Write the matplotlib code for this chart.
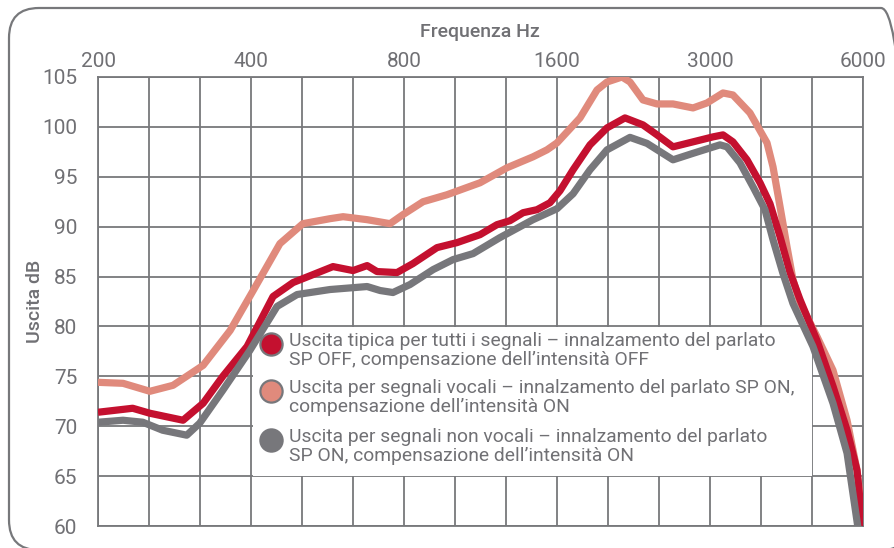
import matplotlib
matplotlib.use("Agg")
import matplotlib.pyplot as plt
from matplotlib.patches import FancyBboxPatch, Rectangle
from matplotlib.transforms import IdentityTransform
from matplotlib.ticker import FixedLocator, NullFormatter

# ---------------- data ----------------
tick_freqs = [200, 400, 800, 1600, 3200, 6400]
tick_labels = ["200", "400", "800", "1600", "3000", "6000"]
y_ticks = [60, 65, 70, 75, 80, 85, 90, 95, 100, 105]

red_f = [200, 234, 253, 294, 322, 352, 393, 442, 484, 530, 580, 635, 677, 708, 775,
         833, 929, 1017, 1129, 1219, 1293, 1372, 1461, 1550, 1622, 1721, 1858, 2007,
         2177, 2362, 2517, 2706, 2963, 3244, 3394, 3550, 3784, 4014, 4199, 4395, 4598,
         4810, 5194, 5587, 5954, 6228, 6420]
red_db = [71.4, 71.8, 71.3, 70.6, 72.3, 75.0, 78.0, 83.0, 84.4, 85.2, 86.0, 85.6, 86.1, 85.5, 85.4,
          86.3, 87.9, 88.4, 89.2, 90.2, 90.6, 91.4, 91.7, 92.4, 93.6, 95.7, 98.2, 99.9,
          100.9, 100.2, 99.2, 98.0, 98.5, 99.0, 99.2, 98.5, 96.7, 94.4, 92.3, 89.0, 85.4,
          82.7, 78.6, 74.0, 69.6, 65.6, 59.0]

sal_f = [200, 224, 253, 281, 322, 364, 404, 456, 506, 572, 607, 677, 751, 796, 872,
         972, 1129, 1275, 1435, 1529, 1600, 1776, 1918, 2007, 2148, 2227, 2362, 2517,
         2706, 2963, 3157, 3394, 3550, 3835, 4143, 4257, 4395, 4535, 4660, 4810, 5194,
         5587, 5954, 6228, 6450]
sal_db = [74.4, 74.3, 73.5, 74.1, 76.1, 79.6, 83.6, 88.3, 90.3, 90.8, 91.0, 90.7, 90.3, 91.2, 92.5,
          93.2, 94.4, 95.9, 97.0, 97.7, 98.4, 100.9, 103.7, 104.5, 105.0, 104.5, 102.7, 102.3,
          102.3, 101.9, 102.4, 103.4, 103.2, 101.4, 98.4, 96.0, 92.0, 88.0, 84.7, 82.4, 79.0,
          75.6, 70.6, 65.6, 59.5]

gray_f = [200, 224, 245, 268, 299, 317, 352, 398, 450, 493, 572, 677, 718, 761, 822,
          913, 999, 1094, 1235, 1435, 1600, 1721, 1858, 2007, 2227, 2405, 2706, 2963,
          3348, 3456, 3665, 3888, 4105, 4257, 4454, 4660, 5101, 5587, 5954, 6290]
gray_db = [70.4, 70.6, 70.4, 69.6, 69.1, 70.3, 73.6, 77.6, 82.0, 83.2, 83.7, 84.0, 83.6, 83.4, 84.2,
           85.7, 86.7, 87.3, 88.9, 90.7, 91.8, 93.3, 95.7, 97.7, 98.95, 98.35, 96.7, 97.35,
           98.2, 98.0, 96.4, 94.0, 91.7, 88.7, 85.3, 82.3, 78.0, 72.3, 67.3, 59.0]

labels = [
    "Uscita tipica per tutti i segnali \u2013 innalzamento del parlato\nSP OFF, compensazione dell\u2019intensit\u00e0 OFF",
    "Uscita per segnali vocali \u2013 innalzamento del parlato SP ON,\ncompensazione dell\u2019intensit\u00e0 ON",
    "Uscita per segnali non vocali \u2013 innalzamento del parlato\nSP ON, compensazione dell\u2019intensit\u00e0 ON",
]

RED = "#C4102F"
SAL = "#E08A7C"
GRAY = "#77777B"
GRID = "#77787B"
TXT = "#707074"
FONT = ["Roboto", "DejaVu Sans"]

plt.rcParams["font.family"] = FONT

fig = plt.figure(figsize=(8.94, 5.48), dpi=100)
ax = fig.add_axes([98 / 894, 1 - 526 / 548, 765 / 894, 449 / 548])

ax.set_xscale("log", base=2)
ax.set_xlim(200, 6400)
ax.set_ylim(60, 105)

# third-octave grid
minor = [200 * 2 ** (k / 3) for k in range(16)]
ax.xaxis.set_minor_locator(FixedLocator(minor))
ax.xaxis.set_minor_formatter(NullFormatter())
ax.set_xticks(tick_freqs)
ax.set_xticklabels(tick_labels)
ax.set_yticks(y_ticks)
ax.xaxis.tick_top()
ax.tick_params(axis="both", which="both", length=0, colors=TXT, labelsize=15)
ax.tick_params(axis="x", pad=4)
ax.tick_params(axis="y", pad=15)
ax.grid(True, which="both", color=GRID, linewidth=1.3)
ax.set_axisbelow(True)
for s in ax.spines.values():
    s.set_color(GRID)
    s.set_linewidth(1.3)
    s.set_zorder(0.6)

# legend background box
ax.add_patch(Rectangle((0.2026, 0.111), 0.9333 - 0.2026, 0.443 - 0.111,
                       transform=ax.transAxes, facecolor="white", edgecolor="none", zorder=1.5))

lw = 5.2
ax.plot(sal_f, sal_db, color=SAL, lw=lw, solid_joinstyle="round", solid_capstyle="butt", zorder=3)
ax.plot(red_f, red_db, color=RED, lw=lw, solid_joinstyle="round", solid_capstyle="butt", zorder=3.1)
ax.plot(gray_f, gray_db, color=GRAY, lw=lw, solid_joinstyle="round", solid_capstyle="butt", zorder=3.2)

# legend entries (manual, marker aligned with first line)
leg_colors = [RED, SAL, GRAY]
leg_y = [(526 - 344) / 449, (526 - 391) / 449, (526 - 440) / 449]
mx = (271 - 98) / 765
tx = (289 - 98) / 765
for c, yy, lab in zip(leg_colors, leg_y, labels):
    ax.plot([mx], [yy], marker="o", markersize=16, markerfacecolor=c,
            markeredgecolor=GRAY, markeredgewidth=1.6, transform=ax.transAxes,
            zorder=2, clip_on=False, linestyle="none")
    ax.text(tx, yy + 0.027, lab, transform=ax.transAxes, ha="left", va="top",
            fontsize=13.9, color=TXT, linespacing=1.1, zorder=2)

# titles
fig.text(480 / 894, 1 - 32 / 548, "Frequenza Hz", ha="center", va="center",
         fontsize=14, color=TXT, fontweight="medium")
fig.text(35 / 894, 1 - 301 / 548, "Uscita dB", ha="center", va="center", rotation=90,
         fontsize=14, color=TXT, fontweight="medium")

# rounded outer frame (right and bottom edges fall outside the image)
frame = FancyBboxPatch((9, -2), 902, 542, boxstyle="round,pad=0,rounding_size=30",
                       transform=IdentityTransform(), facecolor="none",
                       edgecolor=GRID, linewidth=1.6, clip_on=False)
fig.add_artist(frame)

fig.savefig("out.png", dpi=100)
